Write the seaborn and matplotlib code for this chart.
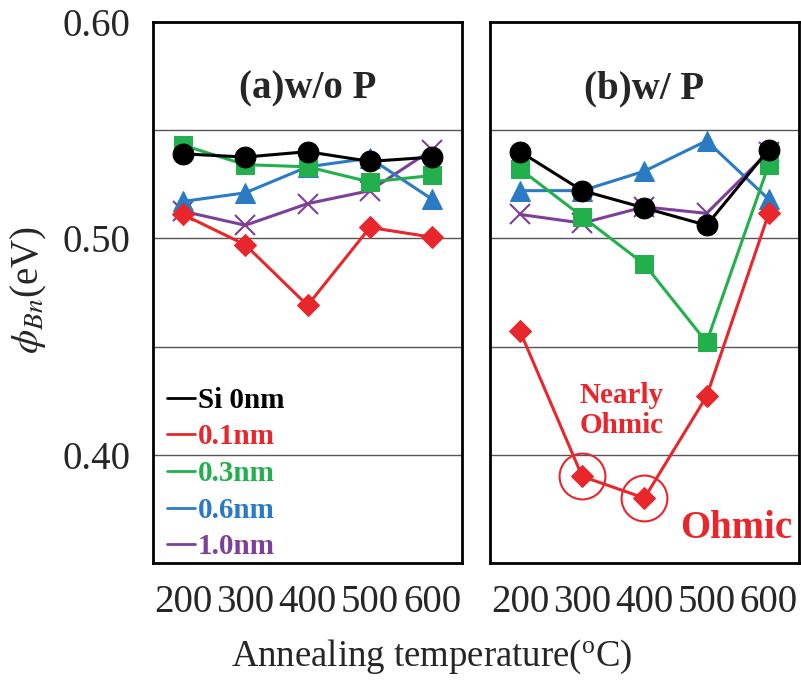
import matplotlib
matplotlib.use("Agg")
import matplotlib.pyplot as plt
from matplotlib.lines import Line2D
import pandas as pd
import seaborn as sns

# annealing temperatures (degC)
temps = [200, 300, 400, 500, 600]
series_names = ["Si 0nm", "0.1nm", "0.3nm", "0.6nm", "1.0nm"]

# (a) w/o P  -- barrier height phi_Bn (eV)
wop_si0 = [0.539, 0.5375, 0.540, 0.5355, 0.5375]
wop_01 = [0.511, 0.497, 0.469, 0.505, 0.5005]
wop_03 = [0.543, 0.534, 0.533, 0.526, 0.529]
wop_06 = [0.517, 0.521, 0.533, 0.537, 0.518]
wop_10 = [0.5125, 0.506, 0.516, 0.522, 0.541]

# (b) w/ P
wp_si0 = [0.540, 0.522, 0.514, 0.506, 0.541]
wp_01 = [0.457, 0.390, 0.380, 0.427, 0.5115]
wp_03 = [0.532, 0.510, 0.488, 0.452, 0.534]
wp_06 = [0.522, 0.522, 0.531, 0.545, 0.518]
wp_10 = [0.511, 0.507, 0.5145, 0.5115, 0.540]

panel_titles = ["(a)w/o P", "(b)w/ P"]
panel_data = [
    [wop_si0, wop_01, wop_03, wop_06, wop_10],
    [wp_si0, wp_01, wp_03, wp_06, wp_10],
]

rows = []
for p, series in enumerate(panel_data):
    for name, vals in zip(series_names, series):
        for t, v in zip(temps, vals):
            rows.append({"panel": p, "series": name, "temp": t, "phi": v})
df = pd.DataFrame(rows)

colors = {"Si 0nm": "#000000", "0.1nm": "#e8262b", "0.3nm": "#21b04b",
          "0.6nm": "#2a7bc4", "1.0nm": "#7d3f98"}
styles = {
    "Si 0nm": dict(marker="o", markersize=15, zorder=6),
    "0.1nm": dict(marker="D", markersize=11, zorder=5),
    "0.3nm": dict(marker="s", markersize=13, zorder=4),
    "0.6nm": dict(marker="^", markersize=14, zorder=3),
    "1.0nm": dict(marker="x", markersize=14, markeredgewidth=1.5, zorder=2),
}

sns.set_style("white")
plt.rcParams["font.family"] = ["Liberation Serif", "DejaVu Serif"]
plt.rcParams["mathtext.fontset"] = "stix"

fig = plt.figure(figsize=(8.01, 6.80), dpi=100)
axes = [fig.add_axes([0.191, 0.172, 0.386, 0.796]),
        fig.add_axes([0.612, 0.172, 0.385, 0.796])]

for p, ax in enumerate(axes):
    sub = df[df["panel"] == p]
    for name in series_names:
        s = sub[sub["series"] == name]
        sns.lineplot(data=s, x="temp", y="phi", color=colors[name],
                     linewidth=2.2, markeredgecolor=colors[name],
                     ax=ax, **styles[name])
    for gy in [0.55, 0.50, 0.45, 0.40]:
        ax.axhline(gy, color="#555555", lw=1.0, zorder=0)
    ax.set_xlim(152, 648)
    ax.set_ylim(0.35, 0.60)
    ax.set_xticks(temps)
    ax.set_xticklabels([str(t) for t in temps], fontsize=28)
    ax.set_yticks([0.40, 0.50, 0.60])
    ax.tick_params(axis="x", length=0, pad=15)
    ax.tick_params(axis="y", length=0, pad=16)
    ax.set_xlabel("")
    ax.set_ylabel("")
    for sp in ax.spines.values():
        sp.set_visible(True)
        sp.set_color("black")
        sp.set_linewidth(2)
    ax.text(0.5, 0.875, panel_titles[p], transform=ax.transAxes,
            ha="center", va="center", fontsize=28, fontweight="bold")

axes[0].set_yticklabels(["0.40", "0.50", "0.60"], fontsize=28)
axes[1].set_yticklabels([])

# legend (left panel)
handles = [Line2D([], [], color=colors[n], lw=2) for n in series_names]
leg = axes[0].legend(handles, series_names, loc="lower left",
                     bbox_to_anchor=(0.045, 0.005), frameon=False,
                     borderpad=0, borderaxespad=0,
                     handlelength=0.95, handletextpad=0.12, labelspacing=0.33,
                     prop={"size": 21, "weight": "bold"})
for txt, n in zip(leg.get_texts(), series_names):
    txt.set_color(colors[n])

# annotations in (b)
red = colors["0.1nm"]
circ = df[(df["panel"] == 1) & (df["series"] == "0.1nm") & (df["temp"].isin([300, 400]))]
axes[1].plot(circ["temp"], circ["phi"], ls="none", marker="o", markersize=33,
             markerfacecolor="none", markeredgecolor=red, markeredgewidth=1.5,
             zorder=7)
axes[1].text(363, 0.4205, "Nearly\nOhmic", color=red, fontsize=21,
             fontweight="bold", ha="center", va="center", linespacing=1.15)
axes[1].text(547, 0.366, "Ohmic", color=red, fontsize=28,
             fontweight="bold", ha="center", va="center")

fig.text(0.539, 0.034, "Annealing temperature($\\mathregular{^o}$C)",
         ha="center", va="center", fontsize=26.5)
fig.text(0.036, 0.574, "$\\phi_{Bn}$(eV)", rotation=90,
         ha="center", va="center", fontsize=28)

fig.savefig("out.png", dpi=100)
